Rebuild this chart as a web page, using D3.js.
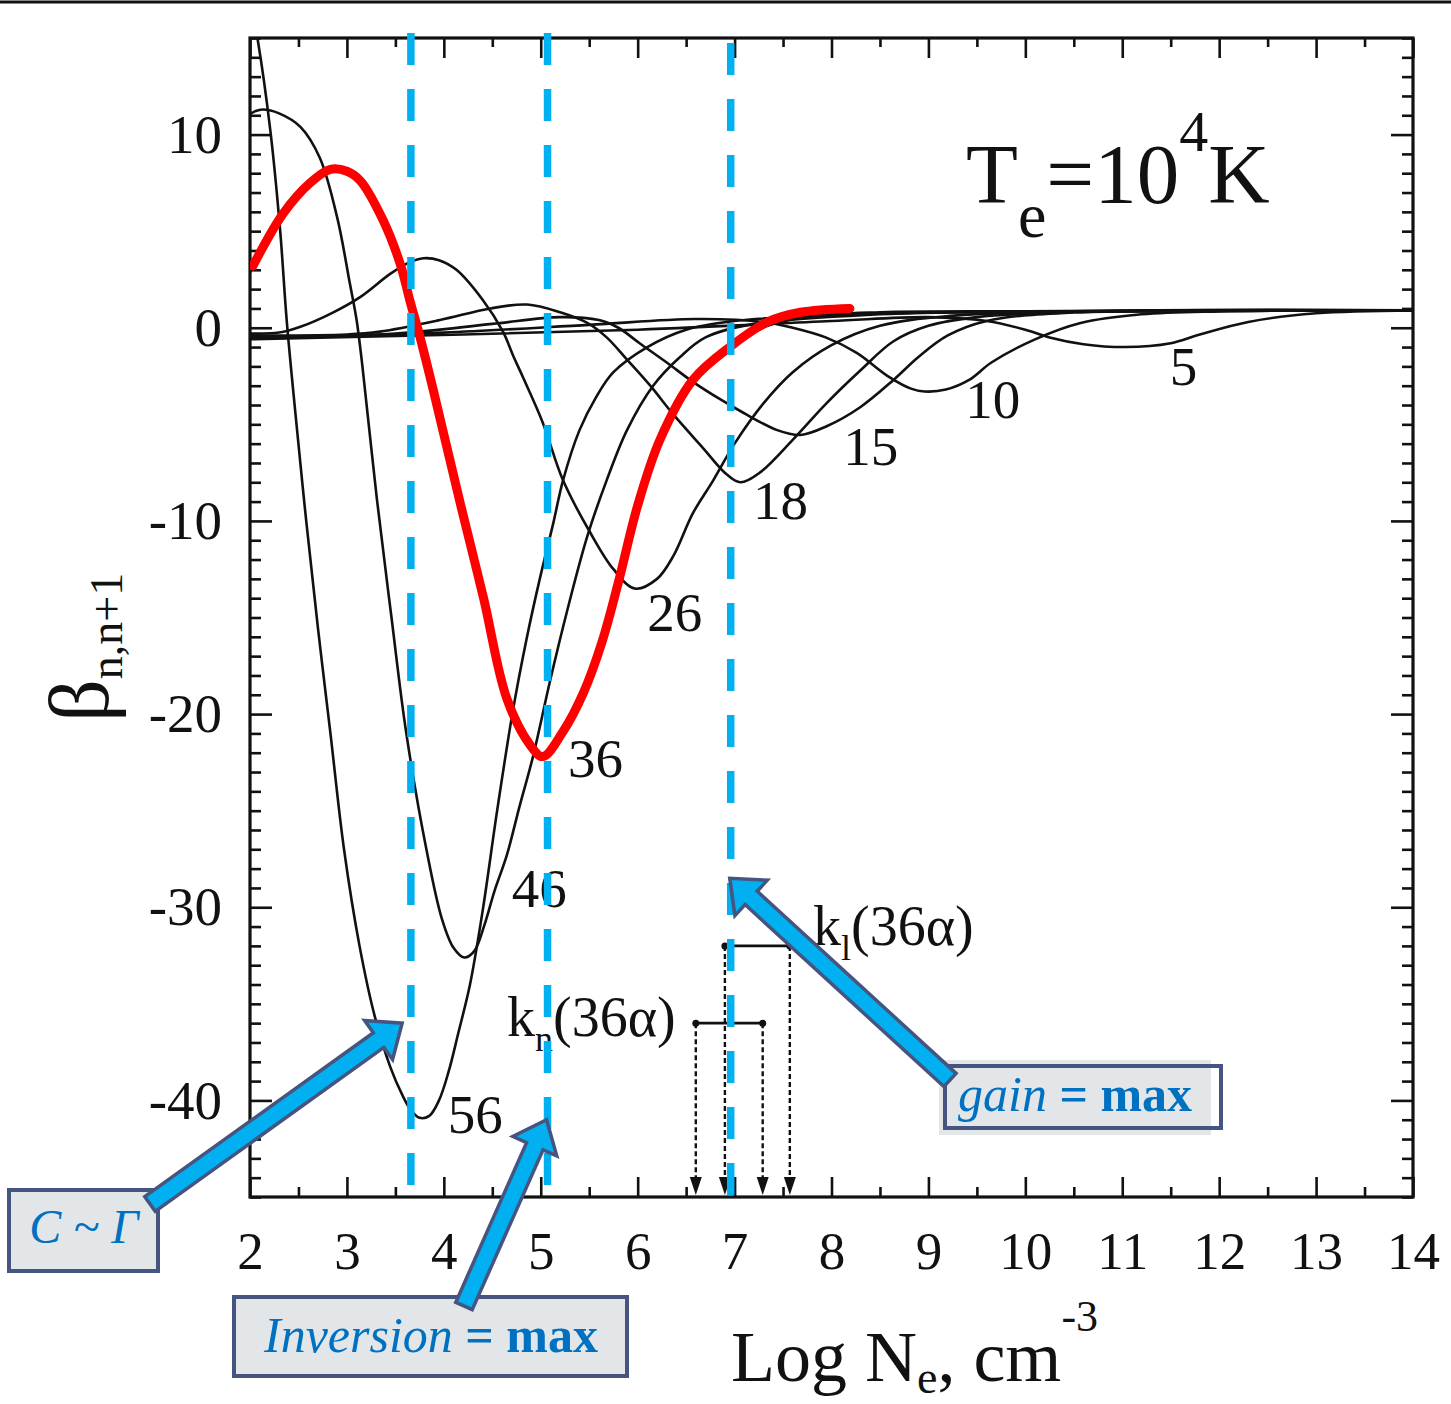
<!DOCTYPE html>
<html>
<head>
<meta charset="utf-8">
<script src="https://cdn.jsdelivr.net/npm/d3@7"></script>
<style>
  html, body { margin: 0; padding: 0; background: #fff; }
  svg { display: block; }
</style>
</head>
<body>
<svg id="chart" width="1451" height="1404"></svg>
<script>
// β(n,n+1) versus log electron density, Te = 1e4 K
// Each series: [log Ne, β]
const n56 = [[1.98,17.5],[2.08,14.9],[2.21,10.2],[2.31,5.1],[2.38,0.3],[2.47,-4.5],[2.58,-10],[2.70,-15.5],[2.83,-21],[2.97,-27],[3.13,-32],[3.29,-35.7],[3.45,-38.3],[3.57,-39.7],[3.66,-40.5],[3.75,-40.9],[3.85,-40.8],[3.95,-40.0],[4.05,-38.5],[4.15,-36.5],[4.27,-34.0],[4.40,-30.2],[4.55,-25.0],[4.71,-19.9],[4.85,-16.2],[4.99,-13.0],[5.13,-10.1],[5.23,-7.9],[5.40,-5.3],[5.57,-3.6],[5.75,-2.3],[6.1,-1.0],[6.5,-0.1],[7.0,0.35],[8.0,0.65],[9.5,0.8],[11,0.85],[14,0.9]];
const n46 = [[1.98,11.0],[2.05,11.2],[2.13,11.3],[2.3,11.1],[2.52,10.4],[2.72,8.8],[2.90,5.7],[3.03,2.3],[3.10,0.4],[3.16,-2.0],[3.31,-8.9],[3.46,-15.0],[3.61,-20.9],[3.82,-27.0],[3.98,-30.6],[4.10,-32.1],[4.21,-32.6],[4.31,-32.3],[4.42,-30.9],[4.52,-29.2],[4.65,-27.3],[4.78,-24.8],[4.92,-22.2],[5.10,-18.2],[5.27,-14.7],[5.48,-10.8],[5.68,-7.9],[5.89,-5.3],[6.16,-3.0],[6.44,-1.5],[6.7,-0.5],[7.2,0.2],[8.5,0.7],[10,0.85],[14,0.9]];
const n36 = [[1.98,2.6],[2.03,3.2],[2.34,5.9],[2.62,7.5],[2.83,8.2],[3.0,8.1],[3.14,7.6],[3.37,5.6],[3.55,3.3],[3.65,1.4],[3.75,-0.4],[3.89,-3.2],[4.17,-9.1],[4.41,-14.0],[4.65,-19.2],[4.89,-21.6],[5.02,-22.2],[5.23,-20.9],[5.44,-18.9],[5.63,-16.3],[5.80,-13.2],[6.0,-9.2],[6.23,-5.8],[6.57,-2.7],[6.95,-1.0],[7.34,0.1],[7.8,0.6],[8.5,0.8],[10,0.85],[14,0.9]];
const n26 = [[1.98,-0.3],[2.3,-0.25],[2.52,0.05],[2.86,0.8],[3.14,1.6],[3.45,2.8],[3.65,3.4],[3.79,3.6],[3.95,3.5],[4.13,3.0],[4.40,1.45],[4.61,-0.2],[4.72,-1.5],[4.82,-2.6],[5.02,-4.9],[5.23,-7.9],[5.51,-10.6],[5.75,-12.5],[5.97,-13.5],[6.2,-13.0],[6.37,-11.8],[6.57,-9.6],[6.78,-7.9],[7.0,-6.0],[7.3,-3.9],[7.6,-2.3],[8.0,-0.9],[8.5,0.1],[9.2,0.6],[10.5,0.85],[14,0.9]];
const n18 = [[1.98,-0.4],[3.0,-0.35],[3.34,-0.2],[3.96,0.4],[4.48,1.0],[4.86,1.2],[5.2,0.8],[5.48,0.25],[5.68,-0.5],[5.89,-1.65],[6.13,-3.0],[6.37,-4.5],[6.67,-6.2],[6.92,-7.6],[7.06,-8.0],[7.26,-7.5],[7.6,-5.8],[7.95,-3.9],[8.3,-2.2],[8.64,-0.7],[9.0,0.1],[9.5,0.55],[10.5,0.8],[14,0.9]];
const n15 = [[1.98,-0.5],[3.5,-0.3],[4.5,0.2],[5.2,0.55],[5.6,0.4],[5.8,0.0],[6.02,-0.8],[6.3,-1.8],[6.57,-2.8],[6.85,-3.7],[7.09,-4.4],[7.44,-5.3],[7.68,-5.55],[7.95,-5.1],[8.3,-4.1],[8.64,-2.7],[8.9,-1.5],[9.2,-0.4],[9.6,0.35],[10.5,0.8],[14,0.9]];
const n10 = [[1.98,-0.55],[4,-0.25],[5.5,0.15],[6.6,0.45],[7.3,0.3],[7.6,0.0],[7.94,-0.5],[8.26,-1.3],[8.58,-2.5],[8.82,-3.15],[8.96,-3.3],[9.18,-3.2],[9.42,-2.7],[9.65,-1.8],[10.1,-0.6],[10.57,0.25],[11.2,0.7],[12,0.85],[14,0.9]];
const n5 = [[1.98,-0.6],[6,-0.1],[8,0.35],[9.0,0.55],[9.6,0.35],[10.0,-0.1],[10.25,-0.5],[10.6,-0.85],[11.03,-1.0],[11.5,-0.8],[11.8,-0.35],[12.3,0.3],[13.0,0.75],[14,0.9]];

// hand-drawn highlight of the n = 36 curve
const trace36 = [[2.03,3.2],[2.34,5.9],[2.62,7.5],[2.83,8.2],[3.0,8.1],[3.14,7.6],[3.37,5.6],[3.55,3.3],[3.65,1.4],[3.75,-0.4],[3.89,-3.2],[4.17,-9.1],[4.41,-14.0],[4.65,-19.2],[4.89,-21.6],[5.02,-22.2],[5.23,-20.9],[5.44,-18.9],[5.63,-16.3],[5.80,-13.2],[6.0,-9.2],[6.23,-5.8],[6.57,-2.7],[6.95,-1.0],[7.34,0.3],[7.68,0.8],[8.19,1.0]];

// curve labels (n) and their anchor in data units
const seriesNames = ["5", "10", "15", "18", "26", "36", "46", "56"];
const labelAnchors = [[11.49,-2.95],[9.38,-4.65],[8.12,-7.08],[7.19,-9.92],[6.10,-15.71],[5.28,-23.26],[4.70,-29.97],[4.04,-41.71]];

// axis ticks
const xTickValues = d3.range(2, 15, 1);
const xMinorValues = d3.range(2.5, 14, 1);
const yTickValues = [10, 0, -10, -20, -30, -40];
const yMinorValues = d3.range(-45, 16, 1).filter(v => v % 10 !== 0);

// density marks: vertical dashed guides, k ranges
const guideX = [3.66, 5.07, 6.96];
const knRange = [6.60, 7.29], knLevel = -36.0;
const klRange = [6.90, 7.57], klLevel = -32.0;

// callout arrow tips (data units)
const calloutTips = [[3.57, -36.0], [5.06, -41.0], [6.95, -28.5]];

const svg = d3.select("#chart");
const W = 1451, H = 1404;
const fontSerif = "'Liberation Serif', 'Times New Roman', serif";
svg.attr("font-family", fontSerif);

const x = d3.scaleLinear().domain([2, 14]).range([250, 1413]);
const y = d3.scaleLinear().domain([15, -45]).range([38, 1197]);
const [x0, x1] = x.range();
const [y0, y1] = y.range();

// thin rule across the top of the page
svg.append("line").attr("x1", 0).attr("x2", W).attr("y1", 2).attr("y2", 2)
  .attr("stroke", "#111").attr("stroke-width", 3);

svg.append("defs").append("clipPath").attr("id", "plotClip")
  .append("rect").attr("x", x0).attr("y", y0).attr("width", x1 - x0).attr("height", y1 - y0);

// axes (ticks point inward)
function styleAxis(g) {
  g.attr("font-family", fontSerif);
  g.select(".domain").remove();
  g.selectAll(".tick line").attr("stroke", "#111").attr("stroke-width", 2.6);
}
svg.append("g").attr("transform", `translate(0,${y1})`)
  .call(d3.axisBottom(x).tickValues(xTickValues).tickSize(-20).tickPadding(34).tickFormat(d => String(d)))
  .call(styleAxis)
  .call(g => g.selectAll("text").attr("font-size", 53).attr("fill", "#111"));
svg.append("g").attr("transform", `translate(0,${y1})`)
  .call(d3.axisBottom(x).tickValues(xMinorValues).tickSize(-10).tickFormat(""))
  .call(styleAxis);
svg.append("g").attr("transform", `translate(0,${y0})`)
  .call(d3.axisTop(x).tickValues(xTickValues).tickSize(-20).tickFormat(""))
  .call(styleAxis);
svg.append("g").attr("transform", `translate(0,${y0})`)
  .call(d3.axisTop(x).tickValues(xMinorValues).tickSize(-9).tickFormat(""))
  .call(styleAxis);
svg.append("g").attr("transform", `translate(${x0},0)`)
  .call(d3.axisLeft(y).tickValues(yTickValues).tickSize(-22).tickPadding(28).tickFormat(d => String(d)))
  .call(styleAxis)
  .call(g => g.selectAll("text").attr("font-size", 55).attr("fill", "#111"));
svg.append("g").attr("transform", `translate(${x0},0)`)
  .call(d3.axisLeft(y).tickValues(yMinorValues).tickSize(-11).tickFormat(""))
  .call(styleAxis);
svg.append("g").attr("transform", `translate(${x1},0)`)
  .call(d3.axisRight(y).tickValues(yTickValues).tickSize(-22).tickFormat(""))
  .call(styleAxis);
svg.append("g").attr("transform", `translate(${x1},0)`)
  .call(d3.axisRight(y).tickValues(yMinorValues).tickSize(-11).tickFormat(""))
  .call(styleAxis);

// frame
svg.append("rect").attr("x", x0).attr("y", y0).attr("width", x1 - x0).attr("height", y1 - y0)
  .attr("fill", "none").attr("stroke", "#111").attr("stroke-width", 3.2);

// curves
const line = d3.line().x(d => x(d[0])).y(d => y(d[1])).curve(d3.curveCatmullRom.alpha(0.5));
const curves = [n5, n10, n15, n18, n26, n36, n46, n56];
const plot = svg.append("g").attr("clip-path", "url(#plotClip)");
plot.selectAll("path.beta").data(curves).join("path")
  .attr("class", "beta")
  .attr("d", line)
  .attr("fill", "none").attr("stroke", "#111").attr("stroke-width", 2.6)
  .attr("stroke-linejoin", "round");

// red highlight
plot.append("path").datum(trace36).attr("d", line)
  .attr("fill", "none").attr("stroke", "#ff0000").attr("stroke-width", 9)
  .attr("stroke-linecap", "round").attr("stroke-linejoin", "round");

// curve labels
svg.append("g").selectAll("text").data(seriesNames).join("text")
  .attr("x", (d, i) => x(labelAnchors[i][0]))
  .attr("y", (d, i) => y(labelAnchors[i][1]))
  .attr("font-size", 55).attr("fill", "#111")
  .text(d => d);

// k ranges with dotted drop lines
function kRange(range, level) {
  const g = svg.append("g");
  g.append("line").attr("x1", x(range[0])).attr("x2", x(range[1]))
    .attr("y1", y(level)).attr("y2", y(level))
    .attr("stroke", "#111").attr("stroke-width", 2.8);
  range.forEach(v => {
    g.append("line").attr("x1", x(v)).attr("x2", x(v))
      .attr("y1", y(level)).attr("y2", y1 - 14)
      .attr("stroke", "#111").attr("stroke-width", 2.4).attr("stroke-dasharray", "5,3");
    g.append("circle").attr("cx", x(v)).attr("cy", y(level)).attr("r", 3.5).attr("fill", "#111");
    g.append("path")
      .attr("d", `M${x(v) - 6},${y1 - 20}L${x(v) + 6},${y1 - 20}L${x(v)},${y1 - 2}Z`)
      .attr("fill", "#111");
  });
}
kRange(knRange, knLevel);
kRange(klRange, klLevel);

// k labels
function kLabel(px, py, sub) {
  const t = svg.append("text").attr("x", px).attr("y", py).attr("font-size", 56).attr("fill", "#111");
  t.append("tspan").text("k");
  t.append("tspan").attr("font-size", 36).attr("dy", 15).text(sub);
  t.append("tspan").attr("dy", -15).text("(36α)");
}
kLabel(507, 1036, "n");
kLabel(813, 945, "l");

// vertical blue dashed guides
svg.append("g").selectAll("line").data(guideX).join("line")
  .attr("x1", d => x(d)).attr("x2", d => x(d))
  .attr("y1", (d, i) => i === 2 ? y0 + 5 : y0 - 5)
  .attr("y2", (d, i) => i === 2 ? y1 - 2 : y1 - 9)
  .attr("stroke", "#00b0f0").attr("stroke-width", 7.5)
  .attr("stroke-dasharray", "32,24");

// temperature annotation
const te = svg.append("text").attr("x", 966).attr("y", 203).attr("font-size", 85).attr("fill", "#111");
te.append("tspan").text("T");
te.append("tspan").attr("font-size", 64).attr("dy", 34).text("e");
te.append("tspan").attr("dy", -34).text("=10");
te.append("tspan").attr("font-size", 58).attr("dy", -52).text("4");
te.append("tspan").attr("dy", 52).text("K");

// axis titles
const xt = svg.append("text").attr("x", 731).attr("y", 1381).attr("font-size", 72).attr("fill", "#111");
xt.append("tspan").text("Log N");
xt.append("tspan").attr("font-size", 46).attr("dy", 12).text("e");
xt.append("tspan").attr("dy", -12).text(", cm");
xt.append("tspan").attr("font-size", 44).attr("dy", -50).text("-3");

const yt = svg.append("text").attr("transform", "translate(108,722) rotate(-90)")
  .attr("font-size", 84).attr("fill", "#111");
yt.append("tspan").text("β");
yt.append("tspan").attr("font-size", 46).attr("dy", 14).text("n,n+1");

// callout boxes
const boxFill = "#e2e6e9", boxStroke = "#46557f", calloutBlue = "#0070c0";
svg.append("rect").attr("x", 9).attr("y", 1190).attr("width", 149).attr("height", 81)
  .attr("fill", boxFill).attr("stroke", boxStroke).attr("stroke-width", 4);
svg.append("text").attr("x", 84).attr("y", 1243).attr("text-anchor", "middle")
  .attr("font-size", 48).attr("font-style", "italic").attr("fill", calloutBlue).text("C ~ Γ");

svg.append("rect").attr("x", 234).attr("y", 1297).attr("width", 393).attr("height", 79)
  .attr("fill", boxFill).attr("stroke", boxStroke).attr("stroke-width", 4);
const inv = svg.append("text").attr("x", 431).attr("y", 1352).attr("text-anchor", "middle")
  .attr("font-size", 50).attr("fill", calloutBlue);
inv.append("tspan").attr("font-style", "italic").text("Inversion");
inv.append("tspan").attr("font-weight", "bold").text(" = max");

svg.append("rect").attr("x", 939).attr("y", 1060).attr("width", 272).attr("height", 75).attr("fill", boxFill);
svg.append("rect").attr("x", 945).attr("y", 1066).attr("width", 276).attr("height", 62)
  .attr("fill", "none").attr("stroke", boxStroke).attr("stroke-width", 4);
const gain = svg.append("text").attr("x", 958).attr("y", 1111)
  .attr("font-size", 50).attr("fill", calloutBlue);
gain.append("tspan").attr("font-style", "italic").text("gain");
gain.append("tspan").attr("font-weight", "bold").text(" = max");

// block arrows from boxes to the curves
function blockArrow(tail, tip) {
  const s = 9, h = 24, L = 29;
  const dx = tip[0] - tail[0], dy = tip[1] - tail[1];
  const len = Math.hypot(dx, dy);
  const ux = dx / len, uy = dy / len, vx = -uy, vy = ux;
  const bx = tip[0] - ux * L, by = tip[1] - uy * L;
  const pts = [
    [tail[0] + vx * s, tail[1] + vy * s],
    [bx + vx * s, by + vy * s],
    [bx + vx * h, by + vy * h],
    tip,
    [bx - vx * h, by - vy * h],
    [bx - vx * s, by - vy * s],
    [tail[0] - vx * s, tail[1] - vy * s]
  ];
  svg.append("path").attr("d", "M" + pts.map(p => p.join(",")).join("L") + "Z")
    .attr("fill", "#00b0f0").attr("stroke", boxStroke).attr("stroke-width", 3.5)
    .attr("stroke-linejoin", "miter");
}
const tails = [[150, 1204], [464, 1306], [950, 1080]];
calloutTips.forEach((t, i) => blockArrow(tails[i], [x(t[0]), y(t[1])]));
</script>
</body>
</html>
